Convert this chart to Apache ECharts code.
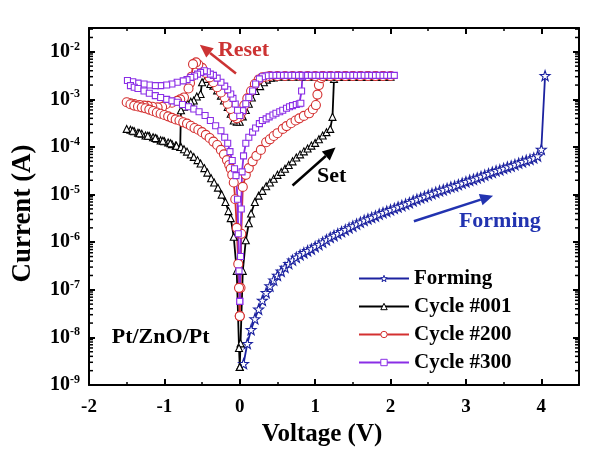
<!DOCTYPE html>
<html>
<head>
<meta charset="utf-8">
<script src="https://cdn.jsdelivr.net/npm/echarts@6/dist/echarts.min.js"></script>
<style>
html,body{margin:0;padding:0;background:#fff;}
#chart{width:593px;height:456px;}
</style>
</head>
<body>
<div id="chart"></div>
<script>
// ---------------- data (Voltage V, Current A) ----------------
const seriesNames = ['Forming', 'Cycle #001', 'Cycle #200', 'Cycle #300'];
const xTicks = [-2, -1, 0, 1, 2, 3, 4];
const yTicks = [1e-9, 1e-8, 1e-7, 1e-6, 1e-5, 1e-4, 1e-3, 1e-2];

const forming = [
[0.05,2.8e-9],[0.10,7.4e-9],[0.15,1.45e-8],[0.20,2.45e-8],[0.25,3.9e-8],[0.30,6.0e-8],[0.35,8.7e-8],[0.40,1.2e-7],[0.45,1.6e-7],[0.50,2.0e-7],
[0.55,2.45e-7],[0.60,2.95e-7],[0.65,3.55e-7],[0.70,4.2e-7],[0.75,4.8e-7],[0.80,5.4e-7],[0.85,6.0e-7],[0.90,6.6e-7],[0.95,7.2e-7],[1.00,8.1e-7],
[1.05,8.9e-7],[1.10,1.0e-6],[1.15,1.12e-6],[1.20,1.26e-6],[1.25,1.38e-6],[1.30,1.51e-6],[1.35,1.66e-6],[1.40,1.82e-6],[1.45,2.0e-6],[1.50,2.19e-6],
[1.55,2.4e-6],[1.60,2.63e-6],[1.65,2.88e-6],[1.70,3.09e-6],[1.75,3.31e-6],[1.80,3.55e-6],[1.85,3.89e-6],[1.90,4.17e-6],[1.95,4.47e-6],[2.00,4.79e-6],
[2.05,5.13e-6],[2.10,5.5e-6],[2.15,5.89e-6],[2.20,6.31e-6],[2.25,6.76e-6],[2.30,7.41e-6],[2.35,7.94e-6],[2.40,8.51e-6],[2.45,9.12e-6],[2.50,9.77e-6],
[2.55,1.05e-5],[2.60,1.12e-5],[2.65,1.2e-5],[2.70,1.26e-5],[2.75,1.35e-5],[2.80,1.45e-5],[2.85,1.51e-5],[2.90,1.62e-5],[2.95,1.74e-5],[3.00,1.86e-5],
[3.05,2.0e-5],[3.10,2.09e-5],[3.15,2.24e-5],[3.20,2.4e-5],[3.25,2.57e-5],[3.30,2.75e-5],[3.35,2.95e-5],[3.40,3.16e-5],[3.45,3.31e-5],[3.50,3.55e-5],
[3.55,3.8e-5],[3.60,3.98e-5],[3.65,4.27e-5],[3.70,4.57e-5],[3.75,4.9e-5],[3.80,5.25e-5],[3.85,5.5e-5],[3.90,5.89e-5],[3.95,6.46e-5],
[4.00,8.9e-5],[4.05,3.16e-3]
];

const cycle001 = [
[0.00,2.4e-9],[0.01,7.5e-9],[0.04,2.5e-7],[0.08,1.1e-6],[0.12,2.5e-6],[0.15,4.0e-6],[0.20,7.0e-6],[0.25,9.5e-6],[0.30,1.2e-5],[0.35,1.5e-5],
[0.40,1.8e-5],[0.45,2.15e-5],[0.50,2.6e-5],[0.55,3.0e-5],[0.60,3.5e-5],[0.65,4.2e-5],[0.70,5.0e-5],[0.75,6.0e-5],[0.80,7.0e-5],[0.85,8.1e-5],
[0.90,9.3e-5],[0.95,1.07e-4],[1.00,1.22e-4],[1.05,1.45e-4],[1.10,1.75e-4],[1.15,2.05e-4],[1.20,2.4e-4],[1.23,4.3e-4],[1.25,2.7e-3],
[1.30,3.0e-3],[1.35,3.0e-3],[1.40,3.0e-3],[1.45,3.0e-3],[1.50,3.0e-3],[1.55,3.0e-3],[1.60,3.0e-3],[1.65,3.0e-3],[1.70,3.0e-3],[1.75,3.0e-3],
[1.80,3.0e-3],[1.85,3.0e-3],[1.90,3.0e-3],[1.95,3.0e-3],[2.00,3.0e-3],
[1.90,3.0e-3],[1.80,3.0e-3],[1.70,3.0e-3],[1.60,3.0e-3],[1.50,3.0e-3],[1.40,3.0e-3],[1.30,3.0e-3],[1.20,3.0e-3],[1.10,3.0e-3],[1.00,3.0e-3],
[0.90,3.0e-3],[0.80,3.0e-3],[0.70,3.0e-3],[0.60,3.0e-3],[0.50,3.0e-3],
[0.45,2.9e-3],[0.41,2.85e-3],[0.36,2.6e-3],[0.32,2.3e-3],[0.27,1.9e-3],[0.21,1.5e-3],[0.16,1.1e-3],[0.12,8.1e-4],[0.08,6.0e-4],[0.04,4.4e-4],
[0.00,3.4e-4],[-0.04,3.4e-4],[-0.08,3.6e-4],[-0.12,5.0e-4],[-0.16,6.9e-4],[-0.21,9.5e-4],[-0.25,1.2e-3],[-0.30,1.55e-3],[-0.35,1.95e-3],[-0.39,2.1e-3],
[-0.45,2.7e-3],[-0.50,2.3e-3],[-0.52,1.3e-3],[-0.57,1.15e-3],[-0.61,9.5e-4],[-0.65,8.9e-4],[-0.69,8.1e-4],[-0.74,7.0e-4],[-0.78,5.9e-4],[-0.79,1.0e-4],
[-0.85,1.07e-4],[-0.90,1.15e-4],[-0.95,1.25e-4],[-1.00,1.32e-4],[-1.05,1.38e-4],[-1.10,1.5e-4],[-1.15,1.6e-4],[-1.20,1.7e-4],[-1.25,1.75e-4],[-1.30,1.9e-4],
[-1.35,2.0e-4],[-1.40,2.15e-4],[-1.45,2.3e-4],[-1.50,2.4e-4],
[-1.42,2.2e-4],[-1.33,1.95e-4],[-1.22,1.72e-4],[-1.12,1.55e-4],[-1.02,1.35e-4],[-0.92,1.2e-4],[-0.84,1.06e-4],[-0.78,1.0e-4],[-0.74,9.0e-5],[-0.70,8.0e-5],
[-0.65,7.0e-5],[-0.61,6.2e-5],[-0.56,5.3e-5],[-0.52,4.5e-5],[-0.47,3.6e-5],[-0.43,2.9e-5],[-0.38,2.2e-5],[-0.34,1.8e-5],[-0.29,1.4e-5],[-0.24,1.0e-5],
[-0.19,7.0e-6],[-0.15,4.5e-6],[-0.12,3.2e-6],[-0.08,1.3e-6],[-0.04,2.5e-7],[-0.01,6.0e-9],[0.00,2.4e-9]
];

const cycle200 = [
[0.00,2.8e-8],[0.01,1.1e-7],[0.02,1.5e-6],[0.04,1.45e-5],[0.08,2.6e-5],[0.12,3.6e-5],[0.17,5.0e-5],[0.22,6.5e-5],[0.28,8.7e-5],[0.35,1.26e-4],
[0.40,1.45e-4],[0.45,1.7e-4],[0.50,1.95e-4],[0.57,2.4e-4],[0.62,2.75e-4],[0.68,3.15e-4],[0.74,3.6e-4],[0.79,4.0e-4],[0.85,4.5e-4],[0.92,5.1e-4],
[0.97,6.2e-4],[1.01,7.6e-4],[1.03,1.26e-3],[1.05,2.0e-3],[1.08,2.8e-3],
[1.10,3.1e-3],[1.20,3.1e-3],[1.30,3.1e-3],[1.40,3.1e-3],[1.50,3.1e-3],[1.60,3.1e-3],[1.70,3.1e-3],[1.80,3.1e-3],[1.90,3.1e-3],[2.00,3.1e-3],
[1.90,3.1e-3],[1.80,3.1e-3],[1.70,3.1e-3],[1.60,3.1e-3],[1.50,3.1e-3],[1.40,3.1e-3],[1.30,3.1e-3],[1.20,3.1e-3],[1.10,3.1e-3],[1.00,3.1e-3],
[0.90,3.1e-3],[0.80,3.1e-3],[0.70,3.1e-3],[0.60,3.1e-3],[0.50,3.1e-3],[0.40,3.1e-3],
[0.35,3.0e-3],[0.30,2.9e-3],[0.25,2.6e-3],[0.20,2.1e-3],[0.15,1.5e-3],[0.10,1.05e-3],[0.06,7.5e-4],[0.03,5.5e-4],[0.00,4.3e-4],[-0.04,4.0e-4],
[-0.08,4.4e-4],[-0.12,6.3e-4],[-0.16,8.1e-4],[-0.20,1.1e-3],[-0.25,1.4e-3],[-0.30,1.8e-3],[-0.35,2.3e-3],[-0.40,2.9e-3],[-0.45,3.6e-3],[-0.50,4.6e-3],
[-0.55,5.4e-3],[-0.58,6.0e-3],[-0.62,5.5e-3],[-0.64,3.0e-3],[-0.66,2.2e-3],[-0.68,1.7e-3],[-0.74,1.1e-3],[-0.79,1.0e-3],[-0.83,9.3e-4],[-0.90,8.5e-4],
[-0.98,7.9e-4],[-1.03,6.9e-4],[-1.09,6.8e-4],[-1.16,7.0e-4],[-1.22,7.3e-4],[-1.27,7.4e-4],[-1.33,7.6e-4],[-1.40,8.0e-4],[-1.45,8.3e-4],[-1.50,8.7e-4],
[-1.45,7.9e-4],[-1.40,7.4e-4],[-1.35,7.1e-4],[-1.30,6.8e-4],[-1.25,6.5e-4],[-1.20,6.1e-4],[-1.15,5.7e-4],[-1.10,5.3e-4],[-1.05,5.0e-4],[-1.00,4.7e-4],
[-0.95,4.4e-4],[-0.90,4.1e-4],[-0.85,3.8e-4],[-0.80,3.6e-4],[-0.75,3.3e-4],[-0.70,3.1e-4],[-0.65,2.8e-4],[-0.60,2.5e-4],[-0.55,2.3e-4],[-0.50,2.05e-4],
[-0.45,1.8e-4],[-0.40,1.55e-4],[-0.35,1.3e-4],[-0.30,1.1e-4],[-0.25,8.7e-5],[-0.21,7.0e-5],[-0.17,5.3e-5],[-0.14,4.2e-5],[-0.12,3.5e-5],[-0.10,2.6e-5],
[-0.08,1.8e-5],[-0.06,8.0e-6],[-0.04,2.0e-6],[-0.02,3.5e-7],[-0.01,1.1e-7],[0.00,2.8e-8]
];

const cycle300 = [
[0.00,5.7e-8],[0.01,5.0e-7],[0.02,5.0e-6],[0.03,3.0e-5],[0.05,6.5e-5],[0.08,1.2e-4],[0.12,1.6e-4],[0.17,2.05e-4],[0.21,2.5e-4],[0.26,3.1e-4],
[0.30,3.6e-4],[0.35,3.9e-4],[0.39,4.3e-4],[0.44,4.7e-4],[0.48,5.1e-4],[0.53,5.5e-4],[0.57,5.9e-4],[0.62,6.5e-4],[0.66,7.0e-4],[0.70,7.4e-4],
[0.75,7.8e-4],[0.79,8.1e-4],[0.81,8.3e-4],[0.82,1.5e-3],[0.83,3.0e-3],
[0.85,3.2e-3],[0.90,3.2e-3],[0.95,3.2e-3],[1.00,3.2e-3],[1.05,3.2e-3],[1.10,3.2e-3],[1.15,3.2e-3],[1.20,3.2e-3],[1.25,3.2e-3],[1.30,3.2e-3],
[1.35,3.2e-3],[1.40,3.2e-3],[1.45,3.2e-3],[1.50,3.2e-3],[1.55,3.2e-3],[1.60,3.2e-3],[1.65,3.2e-3],[1.70,3.2e-3],[1.75,3.2e-3],[1.80,3.2e-3],
[1.85,3.2e-3],[1.90,3.2e-3],[1.95,3.2e-3],[2.00,3.2e-3],[2.05,3.2e-3],
[0.80,3.2e-3],[0.75,3.2e-3],[0.70,3.2e-3],[0.65,3.2e-3],[0.60,3.2e-3],[0.55,3.2e-3],[0.50,3.2e-3],[0.45,3.2e-3],[0.40,3.2e-3],[0.35,3.15e-3],
[0.30,3.0e-3],[0.26,2.7e-3],[0.21,2.1e-3],[0.17,1.5e-3],[0.12,1.1e-3],[0.08,8.1e-4],[0.04,5.8e-4],[0.00,4.6e-4],[-0.03,5.9e-4],[-0.06,8.0e-4],
[-0.09,1.05e-3],[-0.12,1.3e-3],[-0.16,1.6e-3],[-0.20,1.9e-3],[-0.25,2.3e-3],[-0.30,2.8e-3],[-0.35,3.2e-3],[-0.39,3.4e-3],[-0.43,3.8e-3],[-0.47,4.0e-3],
[-0.52,3.7e-3],[-0.56,3.4e-3],[-0.60,3.1e-3],[-0.65,2.9e-3],[-0.70,2.6e-3],[-0.75,2.45e-3],[-0.83,2.3e-3],[-0.90,2.1e-3],[-0.97,2.0e-3],[-1.05,1.95e-3],
[-1.12,1.95e-3],[-1.20,2.0e-3],[-1.27,2.1e-3],[-1.35,2.2e-3],[-1.42,2.35e-3],[-1.49,2.5e-3],
[-1.45,1.95e-3],[-1.40,1.8e-3],[-1.35,1.7e-3],[-1.27,1.5e-3],[-1.20,1.35e-3],[-1.12,1.2e-3],[-1.05,1.1e-3],[-0.97,1.0e-3],[-0.90,9.3e-4],[-0.83,8.7e-4],
[-0.76,7.8e-4],[-0.68,7.0e-4],[-0.61,6.3e-4],[-0.54,5.5e-4],[-0.46,4.6e-4],[-0.39,3.6e-4],[-0.32,2.8e-4],[-0.25,2.2e-4],[-0.20,1.6e-4],[-0.16,1.2e-4],
[-0.13,8.0e-5],[-0.10,5.2e-5],[-0.07,3.5e-5],[-0.05,2.5e-5],[-0.03,8.0e-6],[-0.02,1.5e-6],[-0.01,2.5e-7],[0.00,5.7e-8]
];

// annotation anchors in data space [V, I]
const annotations = [
  {text: 'Reset', at: [0.05, 1.05e-2], color: '#cc3333'},
  {text: 'Set', at: [1.22, 2.4e-5], color: '#000000'},
  {text: 'Forming', at: [3.45, 2.75e-6], color: '#2233b0'},
  {text: 'Pt/ZnO/Pt', at: [-1.05, 1.0e-8], color: '#000000'}
];
const arrows = [
  {from: [-0.05, 3.5e-3], to: [-0.53, 1.4e-2], color: '#cc3333'},
  {from: [0.70, 1.55e-5], to: [1.27, 9.8e-5], color: '#000000'},
  {from: [2.31, 2.75e-6], to: [3.36, 9.5e-6], color: '#2233b0'}
];

// ---------------- chart ----------------
const FONT = '"Liberation Serif", "Times New Roman", serif';
const X_MIN = -2, X_MAX = 4.5, Y_MIN = 1e-9, Y_MAX = Math.pow(10, -1.5);
const colors = {forming: '#1c22a0', c001: '#000000', c200: '#d43030', c300: '#8a2ee6'};
const STAR = 'path://M0,-10L2.35,-3.24L9.51,-3.09L3.8,1.24L5.88,8.09L0,4L-5.88,8.09L-3.8,1.24L-9.51,-3.09L-2.35,-3.24Z';
const seriesColors = [colors.forming, colors.c001, colors.c200, colors.c300];

// log minor tick positions (axis decoration)
const minorVals = [];
for (let d = -9; d <= -2; d++) {
  for (let m = 2; m <= 9; m++) {
    const v = m * Math.pow(10, d);
    if (v < Y_MAX) minorVals.push([X_MIN, v]);
  }
}

function lineSeries(name, data, color, symbol, size) {
  return {
    name: name, type: 'line', data: data,
    color: color,
    symbol: symbol, symbolSize: size,
    showAllSymbol: true,
    lineStyle: {color: color, width: 1.8},
    itemStyle: {color: '#ffffff', borderColor: color, borderWidth: 1.1},
    emphasis: {disabled: true},
    animation: false, clip: true, z: 3
  };
}

const tickStyle = {show: true, inside: true, length: 6, lineStyle: {color: '#000', width: 2}};
const axisLineStyle = {show: true, onZero: false, lineStyle: {color: '#000', width: 2}};

const chart = echarts.init(document.getElementById('chart'), null, {renderer: 'canvas'});
const option = {
  animation: false,
  backgroundColor: '#ffffff',
  grid: {left: 89, right: 14, top: 28, bottom: 71, containLabel: false},
  legend: {
    data: seriesNames.map(function (n, i) {
      return {name: n, itemStyle: {color: '#ffffff', borderColor: seriesColors[i], borderWidth: 1}};
    }),
    orient: 'vertical',
    left: 358, top: 268,
    itemWidth: 50, itemHeight: 8, itemGap: 7,
    padding: 0,
    textStyle: {fontFamily: FONT, fontWeight: 'bold', fontSize: 21, color: '#000'},
    selectedMode: false
  },
  xAxis: [{
    type: 'value', min: X_MIN, max: X_MAX, interval: 1, position: 'bottom',
    axisLine: axisLineStyle, axisTick: tickStyle,
    minorTick: {show: true, splitNumber: 2, length: 3, lineStyle: {color: '#000', width: 1.5}},
    splitLine: {show: false},
    axisLabel: {
      margin: 13, fontFamily: FONT, fontWeight: 'bold', fontSize: 19, color: '#000',
      formatter: function (v) { return xTicks.indexOf(v) >= 0 ? String(v) : ''; }
    },
    name: 'Voltage (V)', nameLocation: 'middle', nameGap: 34,
    nameTextStyle: {fontFamily: FONT, fontWeight: 'bold', fontSize: 25, color: '#000', padding: [0, 24, 0, 0]}
  }, {
    type: 'value', min: X_MIN, max: X_MAX, interval: 1, position: 'top',
    axisLine: axisLineStyle, axisTick: tickStyle,
    minorTick: {show: true, splitNumber: 2, length: 3, lineStyle: {color: '#000', width: 1.5}},
    splitLine: {show: false}, axisLabel: {show: false}
  }],
  yAxis: [{
    type: 'log', logBase: 10, min: Y_MIN, max: Y_MAX, position: 'left',
    axisLine: axisLineStyle, axisTick: tickStyle, splitLine: {show: false},
    axisLabel: {
      margin: 9, color: '#000',
      formatter: function (v) {
        const l = Math.log10(v); const e = Math.round(l);
        if (Math.abs(l - e) > 1e-6) return '';
        return '{b|10}{s|' + e + '}';
      },
      rich: {
        b: {fontFamily: FONT, fontWeight: 'bold', fontSize: 20, lineHeight: 22, color: '#000'},
        s: {fontFamily: FONT, fontWeight: 'bold', fontSize: 12, lineHeight: 12, verticalAlign: 'top', color: '#000'}
      }
    },
    name: 'Current (A)', nameLocation: 'middle', nameGap: 52,
    nameTextStyle: {fontFamily: FONT, fontWeight: 'bold', fontSize: 27, color: '#000', padding: [0, 14, 0, 0]}
  }, {
    type: 'log', logBase: 10, min: Y_MIN, max: Y_MAX, position: 'right',
    axisLine: axisLineStyle, axisTick: tickStyle, splitLine: {show: false},
    axisLabel: {show: false}
  }],
  series: [
    lineSeries(seriesNames[0], forming, colors.forming, STAR, 10),
    lineSeries(seriesNames[1], cycle001, colors.c001, 'triangle', 7),
    lineSeries(seriesNames[2], cycle200, colors.c200, 'circle', 9),
    lineSeries(seriesNames[3], cycle300, colors.c300, 'rect', 6),
    {
      name: 'minorTicks', type: 'custom', data: minorVals, silent: true, z: 10,
      xAxisIndex: 0, yAxisIndex: 0, clip: false,
      renderItem: function (params, api) {
        const y = api.value(1);
        const pL = api.coord([X_MIN, y]);
        const pR = api.coord([X_MAX, y]);
        return {type: 'group', children: [
          {type: 'line', shape: {x1: pL[0], y1: pL[1], x2: pL[0] + 4, y2: pL[1]}, style: {stroke: '#000', lineWidth: 1.5}},
          {type: 'line', shape: {x1: pR[0], y1: pR[1], x2: pR[0] - 4, y2: pR[1]}, style: {stroke: '#000', lineWidth: 1.5}}
        ]};
      }
    }
  ]
};
chart.setOption(option);

// annotations anchored to data coordinates
const graphics = [];
annotations.forEach(function (a) {
  const p = chart.convertToPixel({gridIndex: 0}, a.at);
  graphics.push({
    type: 'text', x: p[0], y: p[1], z: 20,
    style: {text: a.text, fill: a.color, font: 'bold 22px ' + FONT, align: 'center', verticalAlign: 'middle'}
  });
});
arrows.forEach(function (a) {
  const p0 = chart.convertToPixel({gridIndex: 0}, a.from);
  const p1 = chart.convertToPixel({gridIndex: 0}, a.to);
  const dx = p1[0] - p0[0], dy = p1[1] - p0[1];
  const len = Math.sqrt(dx * dx + dy * dy);
  const ux = dx / len, uy = dy / len;
  const hl = 13, hw = 6;
  const bx = p1[0] - ux * hl, by = p1[1] - uy * hl;
  graphics.push({
    type: 'line', z: 20,
    shape: {x1: p0[0], y1: p0[1], x2: bx, y2: by},
    style: {stroke: a.color, lineWidth: 2.5}
  });
  graphics.push({
    type: 'polygon', z: 20,
    shape: {points: [[p1[0], p1[1]], [bx - uy * hw, by + ux * hw], [bx + uy * hw, by - ux * hw]]},
    style: {fill: a.color}
  });
});
chart.setOption({graphic: graphics});
</script>
</body>
</html>
